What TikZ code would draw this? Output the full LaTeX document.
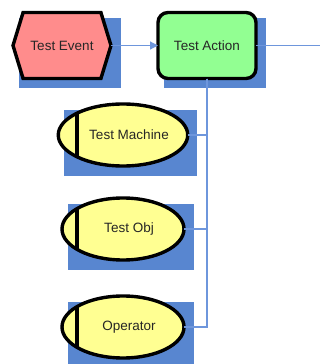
\documentclass[tikz,border=0pt]{standalone}
\usepackage{fontspec}
\setmainfont{Liberation Sans}
\usetikzlibrary{shapes.geometric, shapes.symbols, arrows.meta, calc}
\definecolor{shadowblue}{RGB}{88,134,208}
\definecolor{linkblue}{RGB}{110,150,220}
\definecolor{eventred}{RGB}{255,140,140}
\definecolor{actiongreen}{RGB}{146,255,146}
\definecolor{objyellow}{RGB}{255,255,146}
\pgfdeclarelayer{shadow}
\pgfsetlayers{shadow,main}
\begin{document}
\begin{tikzpicture}[x=1pt, y=-1pt,
    box/.style={draw=black, line width=3.4pt, outer sep=0pt, text=black!85,
      font=\fontsize{13.5}{16}\selectfont},
    event/.style={box, signal, signal to=west and east,
      signal pointer angle=146, fill=eventred, inner sep=0pt,
      minimum width=98pt, minimum height=66pt},
    action/.style={box, rectangle, rounded corners=10pt, fill=actiongreen,
      minimum width=98pt, minimum height=66pt},
    object/.style={box, ellipse, fill=objyellow, inner sep=0pt,
      minimum width=122pt, minimum height=62pt},
    link/.style={draw=linkblue, line width=1.2pt}]
  \useasboundingbox (0, 0) rectangle (320, 364);

  \node[event] (ev) at (62, 45.5) {Test Event};
  \node[action] (act) at (207, 45.5) {Test Action};
  \coordinate (out) at (320, 45.5);

  \node[object] (mach) at (123, 135) {\hspace{12pt}Test Machine};
  \node[object] (obj) at (123, 229) {\hspace{12pt}Test Obj};
  \node[object] (oper) at (123, 327) {\hspace{12pt}Operator};

  % bar on the left side of each object
  \foreach \o in {mach, obj, oper}
    \draw[line width=3.4pt] ($(\o.center)+(-46, -21)$) -- ($(\o.center)+(-46, 21)$);

  % shadows
  \begin{pgfonlayer}{shadow}
    \foreach \n in {ev, act, mach, obj, oper}
      \fill[shadowblue] ($(\n.west |- \n.north)+(5.5, 5.5)$) rectangle ($(\n.east |- \n.south)+(9.5, 9.5)$);
  \end{pgfonlayer}

  \draw[link, -{Triangle[length=8pt, width=8pt]}] (ev.east) -- (act.west);
  \draw[link] (act.east) -- (out);
  \draw[link] (act.south) |- (mach.east);
  \draw[link] (act.south) |- (obj.east);
  \draw[link] (act.south) |- (oper.east);
\end{tikzpicture}
\end{document}
